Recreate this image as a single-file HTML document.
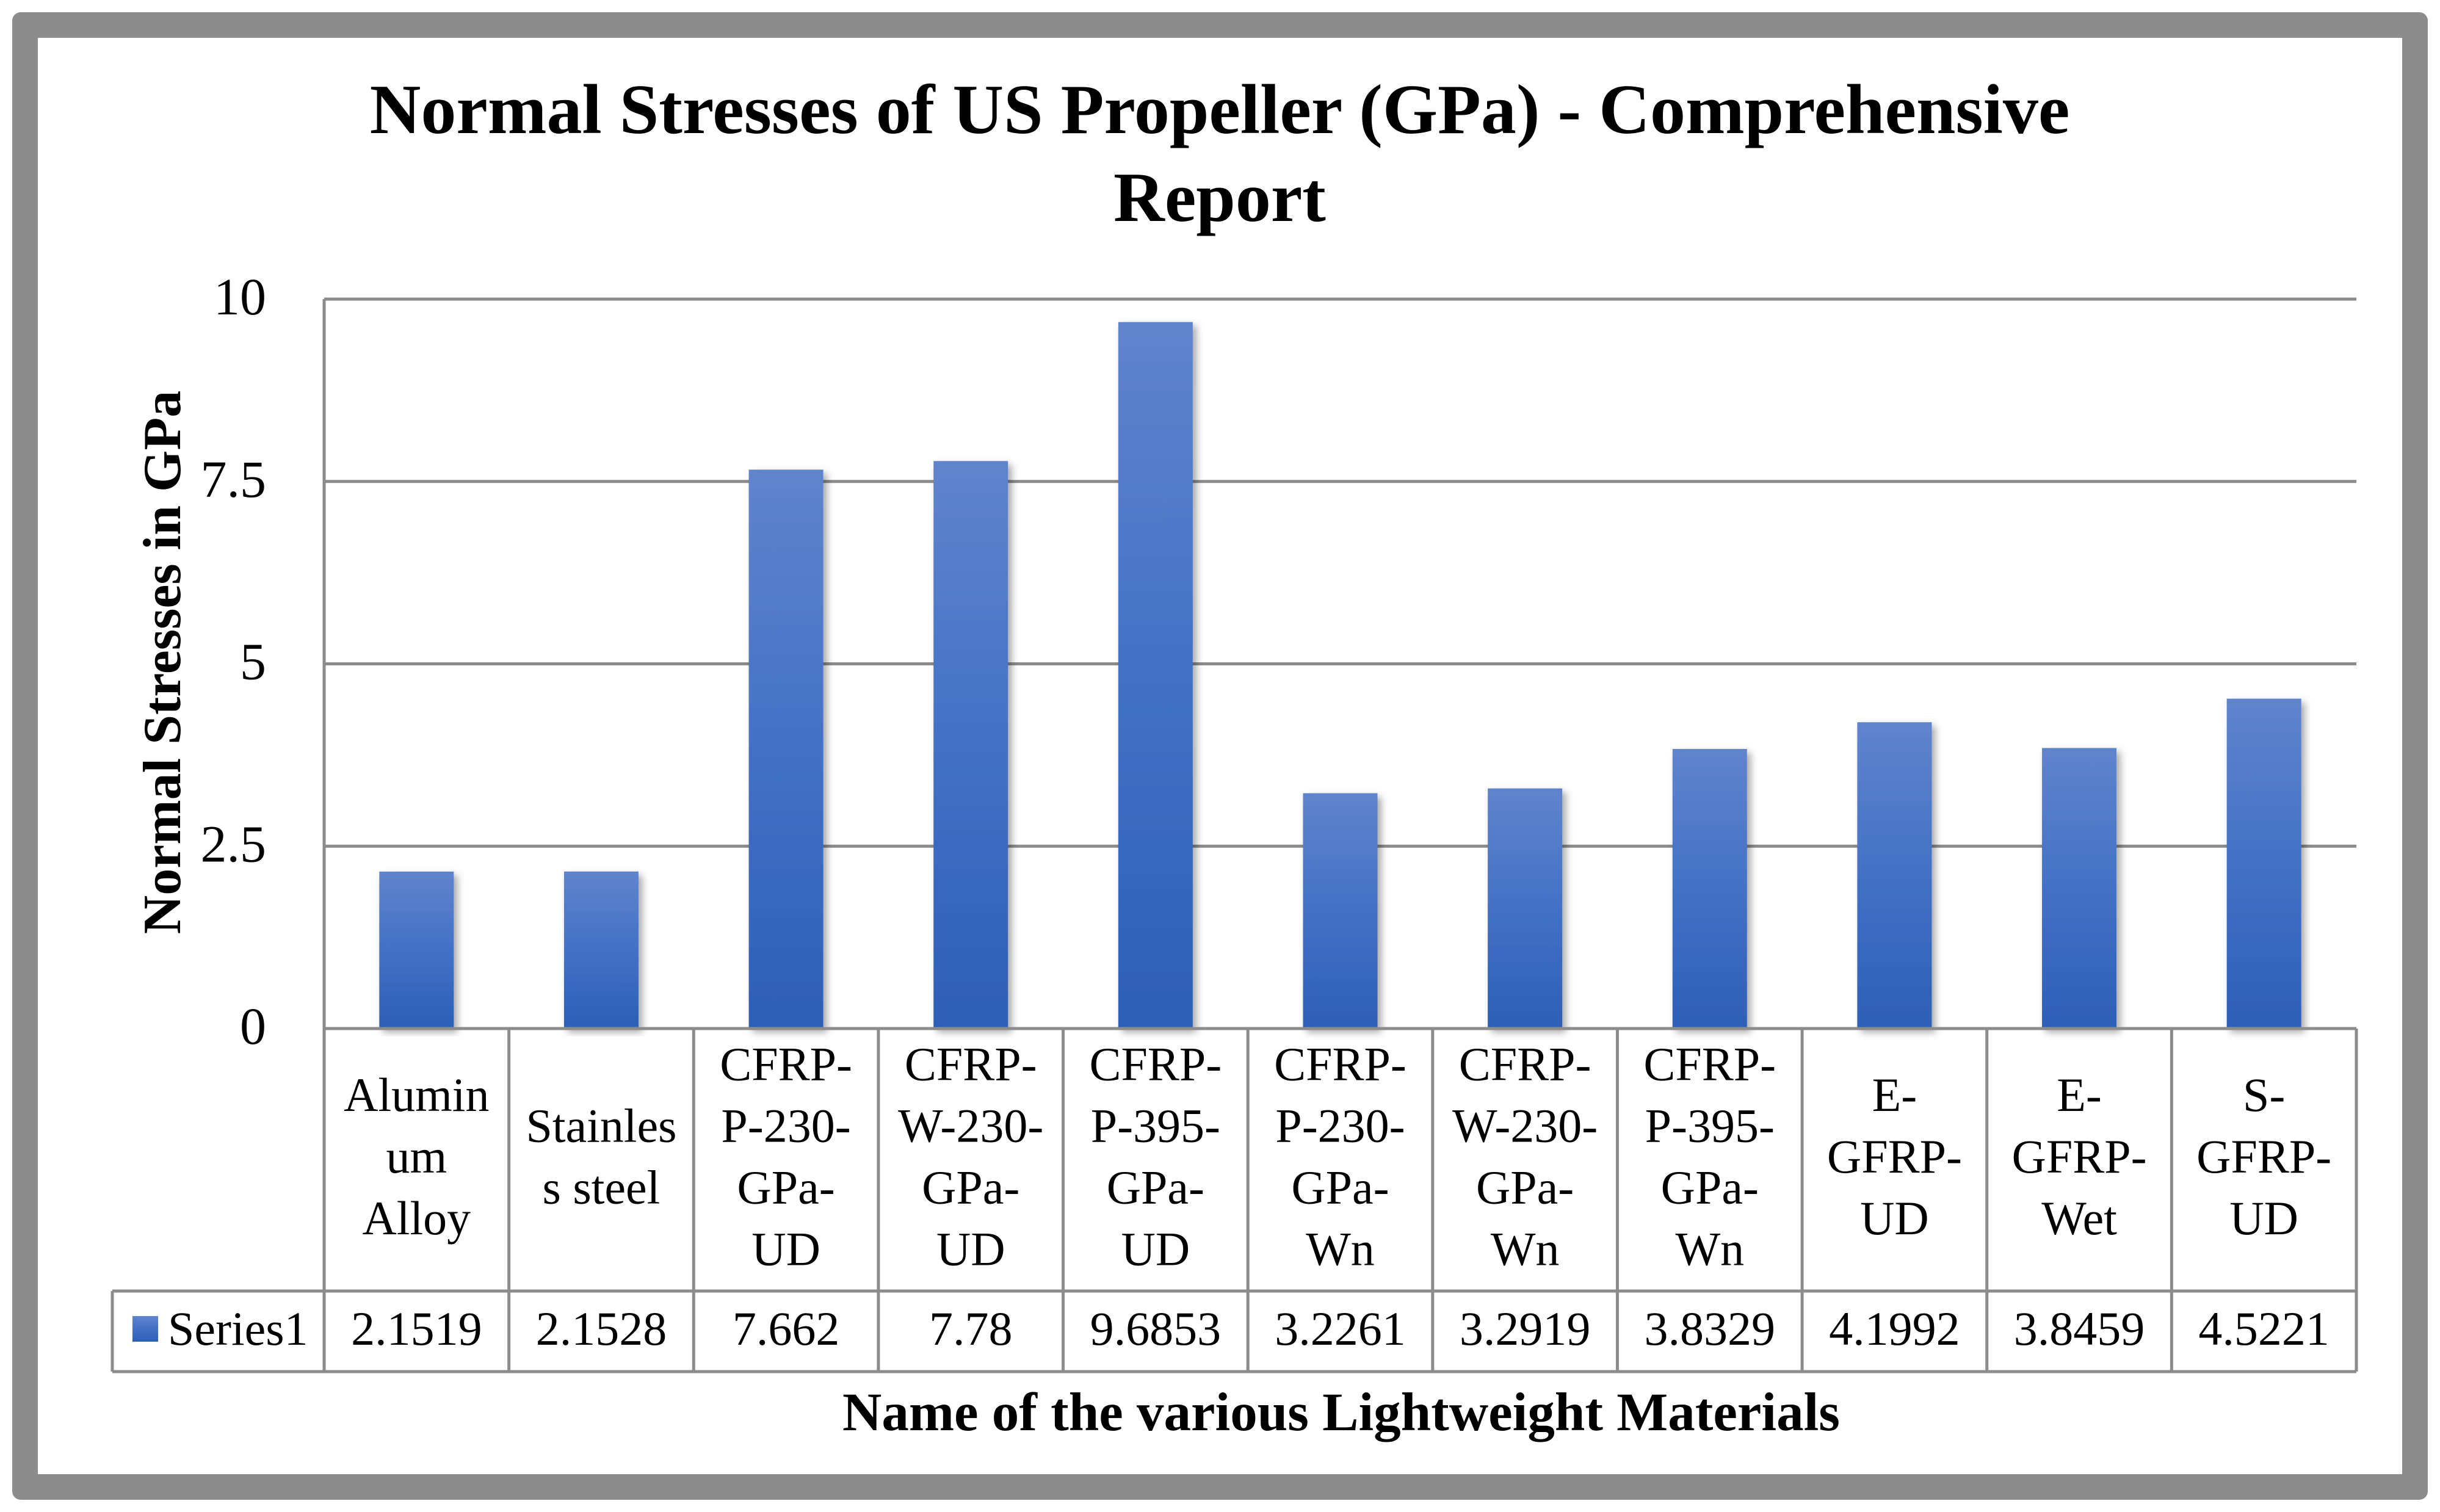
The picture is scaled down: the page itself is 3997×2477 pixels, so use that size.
<!DOCTYPE html>
<html><head><meta charset="utf-8"><style>
html,body{margin:0;padding:0;background:#fff}
svg{display:block}
text{font-family:"Liberation Serif",serif;fill:#000}
</style></head><body>
<svg id="chart" width="3997" height="2477" viewBox="0 0 3997 2477" xmlns="http://www.w3.org/2000/svg">
<defs>
<linearGradient id="barGrad" x1="0" y1="0" x2="0" y2="1">
<stop offset="0" stop-color="#6084cc"/><stop offset="0.5" stop-color="#4371c6"/><stop offset="1" stop-color="#2d5fb6"/>
</linearGradient>
<filter id="sh" x="-20%" y="-5%" width="140%" height="110%"><feDropShadow dx="6" dy="6" stdDeviation="6" flood-color="#000" flood-opacity="0.35"/></filter>
</defs>
<rect x="20" y="20" width="3957" height="2437" rx="14" fill="#8c8c8c"/>
<rect x="62" y="62" width="3873" height="2353" fill="#fff"/>
<text x="1998" y="218" font-size="116" font-weight="bold" text-anchor="middle">Normal Stresses of US Propeller (GPa) - Comprehensive</text>
<text x="1998" y="362" font-size="116" font-weight="bold" text-anchor="middle">Report</text>
<text transform="translate(295,1085) rotate(-90)" font-size="88" font-weight="bold" text-anchor="middle">Normal Stresses in GPa</text>
<text x="2197" y="2343" font-size="89" font-weight="bold" text-anchor="middle">Name of the various Lightweight Materials</text>
<g id="grid"></g><g id="bars"></g><g id="table"></g>
</svg>
<script>
const categories=[["Alumin","um","Alloy"],["Stainles","s steel"],["CFRP-","P-230-","GPa-","UD"],["CFRP-","W-230-","GPa-","UD"],["CFRP-","P-395-","GPa-","UD"],["CFRP-","P-230-","GPa-","Wn"],["CFRP-","W-230-","GPa-","Wn"],["CFRP-","P-395-","GPa-","Wn"],["E-","GFRP-","UD"],["E-","GFRP-","Wet"],["S-","GFRP-","UD"]];
const values=[2.1519,2.1528,7.662,7.78,9.6853,3.2261,3.2919,3.8329,4.1992,3.8459,4.5221];
const valueLabels=["2.1519","2.1528","7.662","7.78","9.6853","3.2261","3.2919","3.8329","4.1992","3.8459","4.5221"];
const ticks=[0,2.5,5,7.5,10];
const tickLabels=["0","2.5","5","7.5","10"];
const NS="http://www.w3.org/2000/svg";
const L=531,R=3860,T=490,B=1685,rowB=2115,tblB=2247,tblL=184,yMax=10;
const cw=(R-L)/categories.length;
const y=v=>B-(v/yMax)*(B-T);
const x=i=>L+i*cw;
function mk(tag,attrs,parent,txt){const e=document.createElementNS(NS,tag);for(const k in attrs)e.setAttribute(k,attrs[k]);if(txt!==undefined)e.textContent=txt;parent.appendChild(e);return e;}
const grid=document.getElementById('grid'),bars=document.getElementById('bars'),tbl=document.getElementById('table');
const gc="#8c8c8c";
ticks.forEach((t,i)=>{
 const ln=mk('line',{x1:L,x2:R,y1:y(t),y2:y(t),stroke:gc,'stroke-width':5},grid);
 
 
 const tx=mk('text',{x:L-95,y:y(t)+25,'font-size':86,'text-anchor':'end'},grid,tickLabels[i]);
 
 
});
const ax=mk('line',{x1:L,x2:L,y1:T,y2:B,stroke:gc,'stroke-width':5},grid);


const bw=122;
values.forEach((v,i)=>{
 const r=mk('rect',{x:x(i)+cw/2-bw/2,y:y(v),width:bw,height:B-y(v),fill:'url(#barGrad)',filter:'url(#sh)'},bars);
 
 
});
[[L,B,R,B],[tblL,rowB,R,rowB],[tblL,tblB,R,tblB],[tblL,rowB,tblL,tblB]].forEach(a=>{
 const l=mk('line',{x1:a[0],y1:a[1],x2:a[2],y2:a[3],stroke:gc,'stroke-width':5},tbl);
 
 
});
for(let i=0;i<=categories.length;i++){
 const l=mk('line',{x1:x(i),y1:B,x2:x(i),y2:tblB,stroke:gc,'stroke-width':5},tbl);
 
 
}
categories.forEach((lines,i)=>{
 const cx=x(i)+cw/2,lh=101,mid=(B+rowB)/2;
 const start=mid-(lines.length-1)*lh/2+21;
 lines.forEach((s,j)=>{
  const t=mk('text',{x:cx,y:start+j*lh,'font-size':78,'text-anchor':'middle'},tbl,s);
  
  
 });
 const vt=mk('text',{x:cx,y:2203,'font-size':78,'text-anchor':'middle'},tbl,valueLabels[i]);
 
 
});
const key=mk('rect',{x:217,y:2156,width:42,height:42,fill:'url(#barGrad)'},tbl);


const lk=mk('text',{x:275,y:2203,'font-size':78},tbl,'Series1');


</script>
</body></html>
